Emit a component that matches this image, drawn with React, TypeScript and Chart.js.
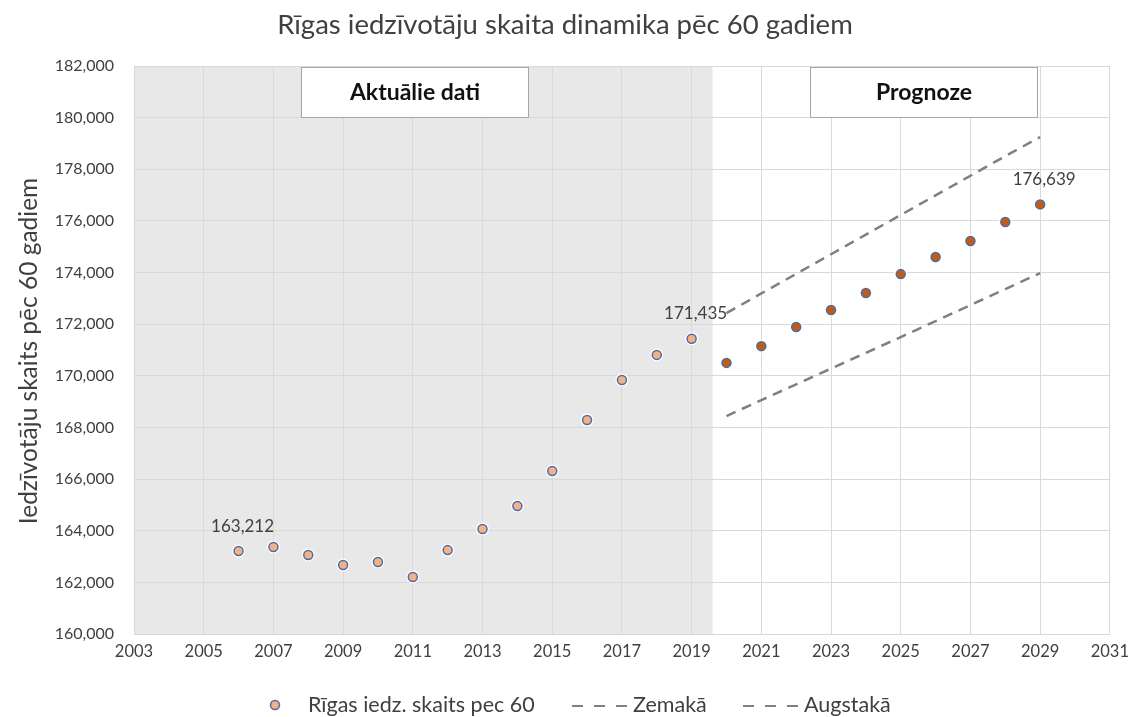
import { useEffect, useRef } from 'react';
import { Chart, registerables } from 'chart.js';

Chart.register(...registerables);

// ---------- data ----------
const years = [2006, 2007, 2008, 2009, 2010, 2011, 2012, 2013, 2014, 2015, 2016, 2017, 2018, 2019,
  2020, 2021, 2022, 2023, 2024, 2025, 2026, 2027, 2028, 2029];
const population = [163212, 163370, 163060, 162670, 162790, 162210, 163250, 164070, 164960, 166310, 168290, 169840, 170810, 171435,
  170500, 171150, 171890, 172550, 173210, 173940, 174600, 175220, 175960, 176639];
const forecastYears = [2020, 2021, 2022, 2023, 2024, 2025, 2026, 2027, 2028, 2029];
const lowerValues = [168440, 169060, 169670, 170280, 170890, 171500, 172120, 172740, 173360, 173980];
const upperValues = [172430, 173190, 173950, 174710, 175470, 176230, 176990, 177750, 178510, 179250];
const labeledYears = [2006, 2019, 2029];
const LAST_ACTUAL_YEAR = 2019;
const SHADE_END_YEAR = 2019.6;
const X_MIN = 2003, X_MAX = 2031, X_STEP = 2;
const Y_MIN = 160000, Y_MAX = 182000, Y_STEP = 2000;

const TITLE = 'Rīgas iedzīvotāju skaita dinamika pēc 60 gadiem';
const Y_TITLE = 'Iedzīvotāju skaits pēc 60 gadiem';
const SERIES_LABEL = 'Rīgas iedz. skaits pec 60';
const LOWER_LABEL = 'Zemakā';
const UPPER_LABEL = 'Augstakā';
const BOX_ACTUAL = { text: 'Aktuālie dati', from: 2007.8, to: 2014.3 };
const BOX_FORECAST = { text: 'Prognoze', from: 2022.4, to: 2028.9 };

const FONT = 'Lato, "Open Sans", sans-serif';
const TEXT = '#404040';
const ACTUAL_FILL = '#F4B183';
const FORECAST_FILL = '#C55A11';
const POINT_BORDER = '#4A6DA7';
const DASH_COLOR = '#808080';
const fmt = (v: number) => v.toLocaleString('en-US');

export default function App() {
  const ref = useRef<HTMLCanvasElement>(null);

  useEffect(() => {
    document.body.style.margin = '0';
    const canvas = ref.current!;
    const points = years.map((y, i) => ({ x: y, y: population[i] }));

    const decor = {
      id: 'decor',
      beforeDraw(chart: any) {
        const { ctx, chartArea: a, scales } = chart;
        ctx.save();
        ctx.fillStyle = '#fff';
        ctx.fillRect(0, 0, chart.width, chart.height);
        const xe = scales.x.getPixelForValue(SHADE_END_YEAR);
        ctx.fillStyle = '#E8E8E8';
        ctx.fillRect(a.left, a.top, xe - a.left, a.bottom - a.top);
        ctx.restore();
      },
      beforeDatasetsDraw(chart: any) {
        const { ctx, chartArea: a, scales } = chart;
        ctx.save();
        for (const b of [BOX_ACTUAL, BOX_FORECAST]) {
          const x0 = Math.round(scales.x.getPixelForValue(b.from)) + 0.5;
          const x1 = Math.round(scales.x.getPixelForValue(b.to)) + 0.5;
          const y0 = a.top + 1.5;
          const h = 50;
          ctx.fillStyle = '#fff';
          ctx.fillRect(x0, y0, x1 - x0, h);
          ctx.strokeStyle = '#A6A6A6';
          ctx.lineWidth = 1;
          ctx.strokeRect(x0, y0, x1 - x0, h);
          ctx.fillStyle = '#111';
          ctx.font = `bold 23px ${FONT}`;
          ctx.textAlign = 'center';
          ctx.textBaseline = 'middle';
          ctx.fillText(b.text, (x0 + x1) / 2, y0 + h / 2);
        }
        ctx.restore();
      },
      afterDraw(chart: any) {
        const { ctx, scales } = chart;
        ctx.save();
        // title
        ctx.fillStyle = TEXT;
        ctx.font = `27.5px ${FONT}`;
        ctx.textAlign = 'center';
        ctx.textBaseline = 'middle';
        ctx.fillText(TITLE, 565, 25);
        // y title
        ctx.save();
        ctx.translate(29, 351);
        ctx.rotate(-Math.PI / 2);
        ctx.font = `24.5px ${FONT}`;
        ctx.fillText(Y_TITLE, 0, 0);
        ctx.restore();
        // data labels
        ctx.font = `17px ${FONT}`;
        for (const yr of labeledYears) {
          const i = years.indexOf(yr);
          const px = scales.x.getPixelForValue(yr);
          const py = scales.y.getPixelForValue(population[i]);
          ctx.fillText(fmt(population[i]), px + 4, py - 25);
        }
        // legend
        const ly = 705;
        ctx.beginPath();
        ctx.arc(275, ly, 6.5, 0, Math.PI * 2);
        ctx.fillStyle = '#fff';
        ctx.fill();
        ctx.beginPath();
        ctx.arc(275, ly, 4.5, 0, Math.PI * 2);
        ctx.fillStyle = ACTUAL_FILL;
        ctx.fill();
        ctx.lineWidth = 1.5;
        ctx.strokeStyle = POINT_BORDER;
        ctx.stroke();
        ctx.font = `21.5px ${FONT}`;
        ctx.textAlign = 'left';
        ctx.fillStyle = TEXT;
        ctx.fillText(SERIES_LABEL, 308, ly);
        const dashItem = (x: number, label: string) => {
          ctx.save();
          ctx.strokeStyle = DASH_COLOR;
          ctx.lineWidth = 2;
          ctx.setLineDash([11, 11]);
          ctx.beginPath();
          ctx.moveTo(x, ly + 1);
          ctx.lineTo(x + 56, ly + 1);
          ctx.stroke();
          ctx.restore();
          ctx.fillStyle = TEXT;
          ctx.fillText(label, x + 61, ly);
        };
        dashItem(572, LOWER_LABEL);
        dashItem(743, UPPER_LABEL);
        ctx.restore();
      },
    };

    const chart = new Chart(canvas, {
      type: 'scatter',
      data: {
        datasets: [
          {
            label: SERIES_LABEL,
            data: points,
            pointRadius: 4.5,
            pointHoverRadius: 4.5,
            pointBorderWidth: 1.5,
            pointBorderColor: POINT_BORDER,
            pointBackgroundColor: (c: any) => (c.raw && c.raw.x > LAST_ACTUAL_YEAR ? FORECAST_FILL : ACTUAL_FILL),
            showLine: false,
          } as any,
          {
            label: 'halo',
            data: points,
            pointRadius: 6.5,
            pointBorderWidth: 0,
            pointBackgroundColor: '#fff',
            showLine: false,
          },
          {
            label: LOWER_LABEL,
            data: forecastYears.map((y, i) => ({ x: y, y: lowerValues[i] })),
            showLine: true,
            borderColor: DASH_COLOR,
            borderWidth: 2.5,
            borderDash: [10, 7],
            pointRadius: 0,
          },
          {
            label: UPPER_LABEL,
            data: forecastYears.map((y, i) => ({ x: y, y: upperValues[i] })),
            showLine: true,
            borderColor: DASH_COLOR,
            borderWidth: 2.5,
            borderDash: [10, 7],
            pointRadius: 0,
          },
        ],
      },
      options: {
        responsive: false,
        animation: false,
        layout: { padding: { left: 0, top: 66, right: 26, bottom: 53 } },
        plugins: { legend: { display: false }, title: { display: false }, tooltip: { enabled: false } },
        scales: {
          x: {
            type: 'linear',
            min: X_MIN,
            max: X_MAX,
            afterFit: (s: any) => { s.height = 30; },
            ticks: {
              stepSize: X_STEP,
              padding: 8,
              color: TEXT,
              font: { family: FONT, size: 16.5 },
              callback: (v: any) => String(v),
            },
            grid: { color: '#D9D9D9', drawTicks: false, lineWidth: 1 },
            border: { color: '#D9D9D9' },
          },
          y: {
            min: Y_MIN,
            max: Y_MAX,
            afterFit: (s: any) => { s.width = 134; },
            ticks: {
              stepSize: Y_STEP,
              padding: 20,
              color: TEXT,
              font: { family: FONT, size: 16 },
              callback: (v: any) => fmt(Number(v)),
            },
            grid: { color: '#D9D9D9', drawTicks: false, lineWidth: 1 },
            border: { color: '#D9D9D9' },
          },
        },
      },
      plugins: [decor],
    });
    return () => chart.destroy();
  }, []);

  return (
    <div style={{ width: 1137, height: 717 }}>
      <canvas ref={ref} width={1137} height={717} style={{ display: 'block' }} />
    </div>
  );
}
